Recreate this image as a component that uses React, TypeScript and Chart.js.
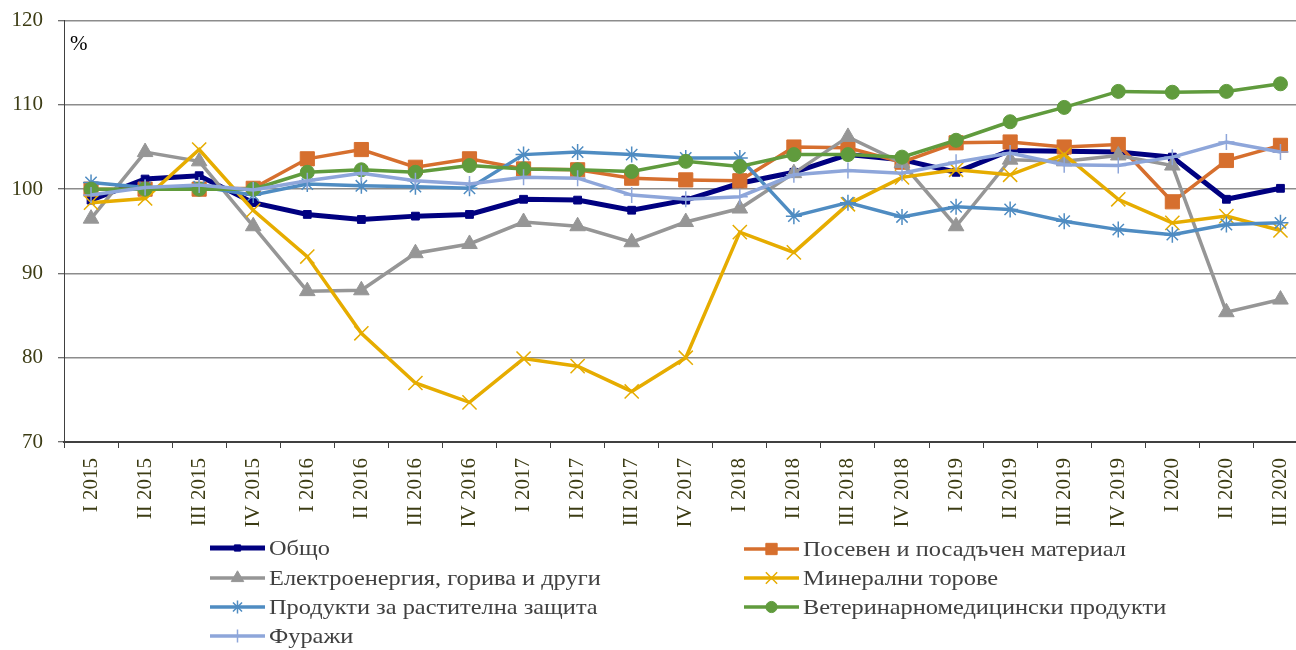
import React, { useEffect, useRef } from 'react';
import { Chart, registerables } from 'chart.js';
import { drawPoint } from 'chart.js/helpers';

Chart.register(...registerables);

const categories = [
  'I 2015', 'II 2015', 'III 2015', 'IV 2015',
  'I 2016', 'II 2016', 'III 2016', 'IV 2016',
  'I 2017', 'II 2017', 'III 2017', 'IV 2017',
  'I 2018', 'II 2018', 'III 2018', 'IV 2018',
  'I 2019', 'II 2019', 'III 2019', 'IV 2019',
  'I 2020', 'II 2020', 'III 2020',
];

const obshto = [98.7, 101.2, 101.6, 98.4, 97.0, 96.4, 96.8, 97.0, 98.8, 98.7, 97.5, 98.7, 100.7, 102.0, 104.1, 103.5, 102.0, 104.6, 104.5, 104.4, 103.8, 98.8, 100.1];
const posev = [100.0, 100.0, 100.0, 100.1, 103.6, 104.7, 102.6, 103.6, 102.4, 102.3, 101.3, 101.1, 101.0, 105.0, 104.9, 103.2, 105.5, 105.6, 105.0, 105.3, 98.5, 103.4, 105.2];
const elektro = [96.5, 104.4, 103.3, 95.6, 87.9, 88.0, 92.4, 93.5, 96.1, 95.6, 93.7, 96.1, 97.7, 101.9, 106.2, 103.1, 95.6, 103.5, 103.3, 104.0, 102.8, 85.4, 86.9];
const mineralni = [98.4, 98.9, 104.7, 97.5, 92.0, 82.9, 77.0, 74.7, 79.9, 79.0, 76.0, 80.0, 94.9, 92.5, 98.2, 101.4, 102.3, 101.7, 104.1, 98.8, 96.0, 96.8, 95.1];
const zashtita = [100.8, 100.2, 100.3, 99.3, 100.6, 100.4, 100.3, 100.1, 104.1, 104.4, 104.1, 103.7, 103.7, 96.8, 98.4, 96.7, 97.9, 97.6, 96.2, 95.2, 94.6, 95.8, 96.0];
const veterinarni = [100.0, 100.0, 100.0, 100.0, 102.0, 102.3, 102.0, 102.8, 102.4, 102.3, 102.1, 103.3, 102.7, 104.1, 104.1, 103.8, 105.8, 108.0, 109.7, 111.6, 111.5, 111.6, 112.5];
const furazhi = [99.3, 100.2, 100.5, 99.9, 101.0, 101.9, 101.0, 100.6, 101.4, 101.3, 99.3, 98.8, 99.1, 101.7, 102.2, 101.9, 103.2, 104.3, 102.9, 102.8, 103.8, 105.6, 104.4];

const seriesNames = [
  'Общо',
  'Посевен и посадъчен материал',
  'Електроенергия, горива и други',
  'Минерални торове',
  'Продукти за растителна защита',
  'Ветеринарномедицински продукти',
  'Фуражи',
];

const yTicks = { min: 70, max: 120, step: 10 };

const FONT = '"Liberation Serif", "Times New Roman", serif';
const AXIS_TEXT = '#3c3c14';
const LEGEND_TEXT = '#404040';
const SHIFT = 7; // canvas is shifted up by this many px

const legendSlots = [
  { x: 210, y: 548 },
  { x: 744, y: 549 },
  { x: 210, y: 578 },
  { x: 744, y: 578 },
  { x: 210, y: 607 },
  { x: 744, y: 607 },
  { x: 210, y: 636 },
];

const overlayPlugin = {
  id: 'overlay',
  afterDraw(chart: any) {
    const ctx = chart.ctx;
    const { left, top } = chart.chartArea;
    ctx.save();
    ctx.font = `21px ${FONT}`;
    ctx.fillStyle = '#000';
    ctx.textBaseline = 'top';
    ctx.textAlign = 'left';
    ctx.fillText('%', left + 6, top + 13);

    chart.data.datasets.forEach((ds: any, i: number) => {
      const slot = legendSlots[i];
      const x0 = slot.x;
      const x1 = slot.x + 55;
      const y = slot.y + SHIFT;
      ctx.save();
      ctx.strokeStyle = ds.borderColor;
      ctx.lineWidth = ds.borderWidth;
      ctx.lineCap = 'butt';
      ctx.beginPath();
      ctx.moveTo(x0, y);
      ctx.lineTo(x1, y);
      ctx.stroke();
      ctx.fillStyle = ds.pointBackgroundColor;
      ctx.strokeStyle = ds.pointBorderColor;
      ctx.lineWidth = ds.pointBorderWidth;
      drawPoint(ctx, {
        pointStyle: ds.pointStyle,
        rotation: 0,
        radius: ds.pointRadius * 0.8,
        borderWidth: ds.pointBorderWidth,
      } as any, (x0 + x1) / 2, y);
      ctx.restore();
      ctx.save();
      ctx.font = `21px ${FONT}`;
      ctx.fillStyle = LEGEND_TEXT;
      ctx.textBaseline = 'middle';
      ctx.textAlign = 'left';
      ctx.translate(x1 + 4, y + 1);
      ctx.scale(1.16, 1);
      ctx.fillText(ds.label, 0, 0);
      ctx.restore();
    });
    ctx.restore();
  },
};

function makeDataset(label: string, data: number[], color: string, style: string, radius: number, width: number, pbw: number, order: number, filled = true) {
  return {
    label,
    data,
    borderColor: color,
    backgroundColor: color,
    borderWidth: width,
    pointStyle: style,
    pointRadius: radius,
    pointHoverRadius: radius,
    pointBackgroundColor: filled ? color : 'rgba(0,0,0,0)',
    pointBorderColor: color,
    pointBorderWidth: pbw,
    tension: 0,
    fill: false,
    order,
  };
}

export default function App() {
  const canvasRef = useRef<HTMLCanvasElement | null>(null);

  useEffect(() => {
    if (!canvasRef.current) return;
    const chart = new Chart(canvasRef.current, {
      type: 'line',
      data: {
        labels: categories,
        datasets: [
          makeDataset(seriesNames[0], obshto, '#000080', 'rect', 5.5, 5, 1, 7),
          makeDataset(seriesNames[1], posev, '#D66F2E', 'rect', 10, 3.5, 1, 6),
          makeDataset(seriesNames[2], elektro, '#969696', 'triangle', 9, 3.5, 1, 5),
          makeDataset(seriesNames[3], mineralni, '#E6AC00', 'crossRot', 10, 3.5, 1.5, 4, false),
          makeDataset(seriesNames[4], zashtita, '#4F8CC2', 'star', 8, 3.5, 1.5, 3, false),
          makeDataset(seriesNames[5], veterinarni, '#609B3D', 'circle', 7, 3.5, 1, 2),
          makeDataset(seriesNames[6], furazhi, '#8EA6DA', 'cross', 8, 3.5, 1.5, 1, false),
        ] as any,
      },
      options: {
        responsive: false,
        animation: false,
        layout: { padding: { top: 13, left: 0, right: 4, bottom: 118 } },
        plugins: {
          legend: { display: false },
          tooltip: { enabled: false },
        },
        scales: {
          x: {
            type: 'category',
            offset: true,
            grid: {
              display: true,
              drawOnChartArea: false,
              offset: true,
              tickLength: 6,
              color: '#404040',
              lineWidth: 1,
            },
            border: { display: true, color: '#404040', width: 2 },
            ticks: {
              autoSkip: false,
              maxRotation: 90,
              minRotation: 90,
              padding: 10,
              color: AXIS_TEXT,
              font: { family: FONT, size: 21 },
            },
            afterFit: (scale: any) => { scale.height = 90; },
          },
          y: {
            min: yTicks.min,
            max: yTicks.max,
            ticks: {
              stepSize: yTicks.step,
              padding: 15,
              color: AXIS_TEXT,
              font: { family: FONT, size: 21 },
            },
            grid: {
              color: '#8c8c8c',
              lineWidth: 1.5,
              tickLength: 6,
              tickColor: '#404040',
              tickWidth: 1,
            },
            border: { display: true, color: '#404040', width: 1 },
            afterFit: (scale: any) => { scale.width = 64; },
          },
        },
      },
      plugins: [overlayPlugin],
    } as any);
    return () => chart.destroy();
  }, []);

  return (
    <div style={{ position: 'fixed', left: 0, top: 0, width: 1296, height: 650, overflow: 'hidden', background: '#fff' }}>
      <canvas ref={canvasRef} width={1319} height={650 + SHIFT} style={{ display: 'block', marginTop: -SHIFT }} />
    </div>
  );
}
